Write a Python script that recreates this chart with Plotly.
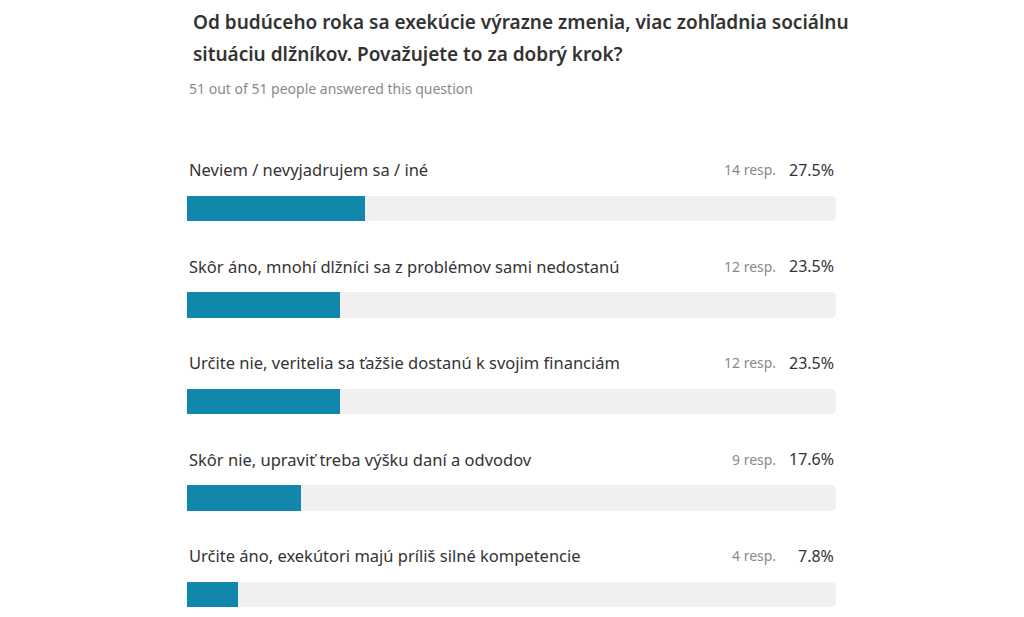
import plotly.graph_objects as go

TITLE_LINES = [
    "Od budúceho roka sa exekúcie výrazne zmenia, viac zohľadnia sociálnu",
    "situáciu dlžníkov. Považujete to za dobrý krok?",
]
SUBTITLE = "51 out of 51 people answered this question"

ANSWERS = [
    "Neviem / nevyjadrujem sa / iné",
    "Skôr áno, mnohí dlžníci sa z problémov sami nedostanú",
    "Určite nie, veritelia sa ťažšie dostanú k svojim financiám",
    "Skôr nie, upraviť treba výšku daní a odvodov",
    "Určite áno, exekútori majú príliš silné kompetencie",
]
RESPONSES = [14, 12, 12, 9, 4]
PERCENTS = [27.5, 23.5, 23.5, 17.6, 7.8]

BAR_COLOR = "#1187ab"
TRACK_COLOR = "#f0f0f0"
TEXT_COLOR = "#333333"
MUTED = "#8a8a8a"
FONT = "Noto Sans"

rows = list(range(len(ANSWERS)))

fig = go.Figure()
# grey track
fig.add_trace(go.Bar(
    x=[100] * len(rows), y=rows, orientation="h",
    marker=dict(color=TRACK_COLOR, cornerradius=5, line_width=0),
    width=0.26, hoverinfo="skip", showlegend=False,
))
# filled part, rounded on the left
fig.add_trace(go.Bar(
    x=PERCENTS, y=rows, orientation="h",
    marker=dict(color=BAR_COLOR, cornerradius=5, line_width=0),
    width=0.26, showlegend=False,
))
# square off the right end of the filled part
fig.add_trace(go.Bar(
    x=[p / 2 for p in PERCENTS], base=[p / 2 for p in PERCENTS], y=rows,
    orientation="h", marker=dict(color=BAR_COLOR, line_width=0),
    width=0.26, hoverinfo="skip", showlegend=False,
))

for i, (label, n, pct) in enumerate(zip(ANSWERS, RESPONSES, PERCENTS)):
    fig.add_annotation(x=0, y=i - 0.4, text=label, showarrow=False,
                       xanchor="left", yanchor="middle",
                       font=dict(size=16.5, color=TEXT_COLOR, family=FONT))
    fig.add_annotation(x=100, y=i - 0.4, text=f"{pct:.1f}%", showarrow=False,
                       xanchor="right", yanchor="middle",
                       font=dict(size=16, color=TEXT_COLOR, family=FONT))
    fig.add_annotation(x=100, y=i - 0.4, text=f"{n} resp.", showarrow=False,
                       xanchor="right", yanchor="middle", xshift=-58,
                       font=dict(size=14, color=MUTED, family=FONT))

for line, shift in zip(TITLE_LINES, [98, 66]):
    fig.add_annotation(xref="paper", yref="paper", x=0, y=1.0, yshift=shift,
                       xshift=4, text=line, showarrow=False,
                       xanchor="left", yanchor="middle",
                       font=dict(size=19, color=TEXT_COLOR, family=FONT, weight=600))
fig.add_annotation(xref="paper", yref="paper", x=0, y=1.0, yshift=32,
                   text=SUBTITLE, showarrow=False, xanchor="left", yanchor="middle",
                   font=dict(size=14, color=MUTED, family=FONT))

fig.update_layout(
    width=1024, height=617,
    margin=dict(l=179, r=196, t=112, b=18),
    paper_bgcolor="white", plot_bgcolor="white",
    barmode="overlay", bargap=0,
    xaxis=dict(range=[0, 100], visible=False, fixedrange=True),
    yaxis=dict(range=[4.1295, -0.917], visible=False, fixedrange=True),
    font=dict(family=FONT),
)

fig.write_html("out.html")
